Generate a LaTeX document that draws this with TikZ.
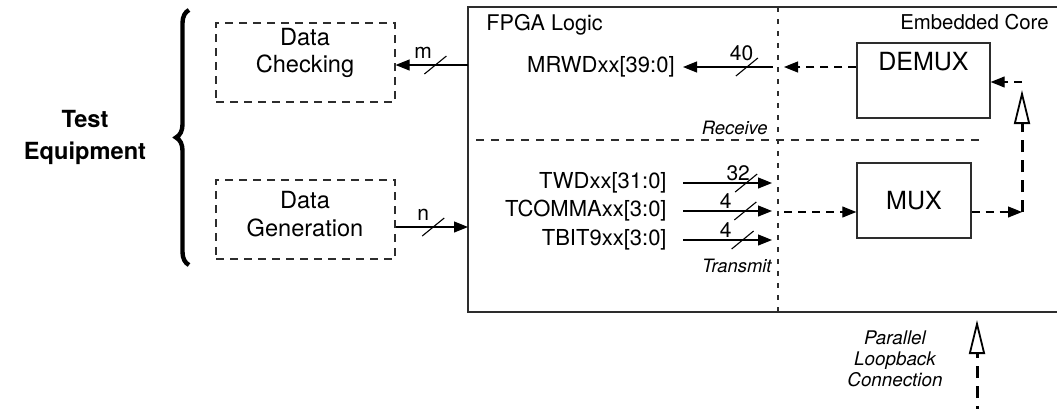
\documentclass[tikz,border=0pt]{standalone}
\usepackage{fontspec}
\setmainfont{TeX Gyre Heros}
\usetikzlibrary{arrows.meta, decorations.pathreplacing, calc}

\definecolor{linegray}{RGB}{45,45,45}

\tikzset{
  dbox/.style={draw=linegray, line width=0.6pt, dash pattern=on 4pt off 3pt,
    minimum width=89.5pt, minimum height=39.5pt},
  dtxt/.style={align=center, inner sep=0pt, font=\fontsize{11.8}{13.8}\selectfont},
  blk/.style={draw=linegray, line width=0.7pt, minimum width=57pt, minimum height=37.5pt,
    font=\fontsize{12.5}{14}\selectfont},
  sig/.style={draw=black, line width=0.55pt, -{Triangle[length=7pt,width=5.5pt]}},
  dsig/.style={sig, dash pattern=on 4pt off 3pt},
  loopline/.style={line width=1.5pt, dash pattern=on 6pt off 4pt,
    -{Triangle[open,length=17pt,width=8pt,line width=0.9pt]}},
  busname/.style={anchor=east, inner sep=0pt, font=\fontsize{11}{12}\selectfont},
  buslbl/.style={above, inner sep=1pt, font=\fontsize{10.5}{12}\selectfont},
  note/.style={inner sep=0pt, font=\fontsize{9.2}{10.5}\selectfont\itshape},
  bus/.pic={\draw[-, solid, line width=0.55pt] (-11,9) -- (11,-9);}
}

\begin{document}
\begin{tikzpicture}[x=0.5pt, y=-0.5pt]
  \useasboundingbox (0,0) rectangle (1057,408);

  % test equipment side
  \node[font=\fontsize{11.8}{16}\selectfont\bfseries, align=center] (te) at (85,137) {Test\\Equipment};
  \coordinate (brB) at (189,265);
  \coordinate (brT) at (189,10);
  \draw[decorate, decoration={brace, amplitude=6.5pt}, line width=2.2pt] (brB) -- (brT);

  \node[dbox] (chk) at (305.5,62.5) {};
  \node[dtxt] (chktxt) at (305,53) {Data\\Checking};
  \node[dbox] (gen) at (305.5,219.5) {};
  \node[dtxt] (gentxt) at (305,214) {Data\\Generation};

  % FPGA logic frame and dividers
  \draw[linegray, line width=0.8pt] (1075,7) -- (468,7) -- (468,312) -- (1075,312);
  \draw[linegray, line width=0.6pt, dash pattern=on 2.5pt off 3.5pt] (778,7) -- (778,312);
  \draw[linegray, line width=0.6pt, dash pattern=on 4pt off 3.5pt] (476,140) -- (980,140);

  \node[anchor=west, inner sep=0pt, font=\fontsize{10.8}{12}\selectfont] (fpga) at (486,25) {FPGA Logic};
  \node[anchor=east, inner sep=0pt, font=\fontsize{10.2}{12}\selectfont] (core) at (1049,22) {Embedded Core};
  \node[note, anchor=east] (rcv) at (768,128) {Receive};
  \node[note, anchor=east] (tx) at (772,266) {Transmit};

  % receive path
  \coordinate (mIn) at (468,65);
  \draw[sig] (mIn) -- pic[pos=0.45]{bus} node[buslbl, pos=0.62, yshift=2pt]{m} (chk.east |- mIn);

  \node[busname] (mrwd) at (675,67) {MRWDxx[39:0]};
  \coordinate (rxL) at (773,67);
  \coordinate (rxR) at (784,67);
  \draw[sig] (rxL) -- pic[pos=0.29]{bus} node[buslbl, pos=0.35, yshift=2pt]{40} ([xshift=4pt]mrwd.east);

  \node[blk, minimum width=66.5pt] (demux) at (923.5,80.5) {};
  \node[inner sep=0pt, font=\fontsize{12.5}{14}\selectfont] (demuxtxt) at (923.5,62) {DEMUX};
  \draw[dsig] (demux.west |- rxR) -- (rxR);

  % transmit path
  \coordinate (nOut) at (468,227);
  \draw[sig] (gen.east |- nOut) -- pic[pos=0.52]{bus} node[buslbl, pos=0.38, yshift=2pt]{n} (nOut);

  \node[busname] (twd) at (667,183) {TWDxx[31:0]};
  \node[busname] (tcomma) at (667,211) {TCOMMAxx[3:0]};
  \node[busname] (tbit) at (667,240) {TBIT9xx[3:0]};
  \coordinate (twdE) at (772,183);
  \coordinate (tcommaE) at (772,211);
  \coordinate (tbitE) at (772,240);
  \draw[sig] ([xshift=8pt]twd.east) -- pic[pos=0.71]{bus} node[buslbl, pos=0.62]{32} (twdE);
  \draw[sig] ([xshift=8pt]tcomma.east) -- pic[pos=0.7]{bus} node[buslbl, pos=0.48]{4} (tcommaE);
  \draw[sig] ([xshift=8pt]tbit.east) -- pic[pos=0.67]{bus} node[buslbl, pos=0.48]{4} (tbitE);

  \node[blk] (mux) at (914,200.5) {MUX};
  \coordinate (txR) at (784,212);
  \draw[dsig] (txR) -- (mux.west |- txR);

  % loopback inside the core
  \coordinate (lpB) at (1022,212);
  \coordinate (lpT) at (1022,90);
  \coordinate (lpD) at (1022,82);
  \draw[dsig] (mux.east |- lpB) -- (lpB);
  \draw[loopline] (lpB) -- (lpT);
  \draw[dsig] (lpD) -- (demux.east |- lpD);

  % parallel loopback
  \node[note, font=\fontsize{9.4}{10.5}\selectfont\itshape, align=center] (plc) at (895,359) {Parallel\\Loopback\\Connection};
  \coordinate (lbB) at (977,418);
  \coordinate (lbT) at (977,320);
  \draw[loopline] (lbB) -- (lbT);
\end{tikzpicture}
\end{document}
